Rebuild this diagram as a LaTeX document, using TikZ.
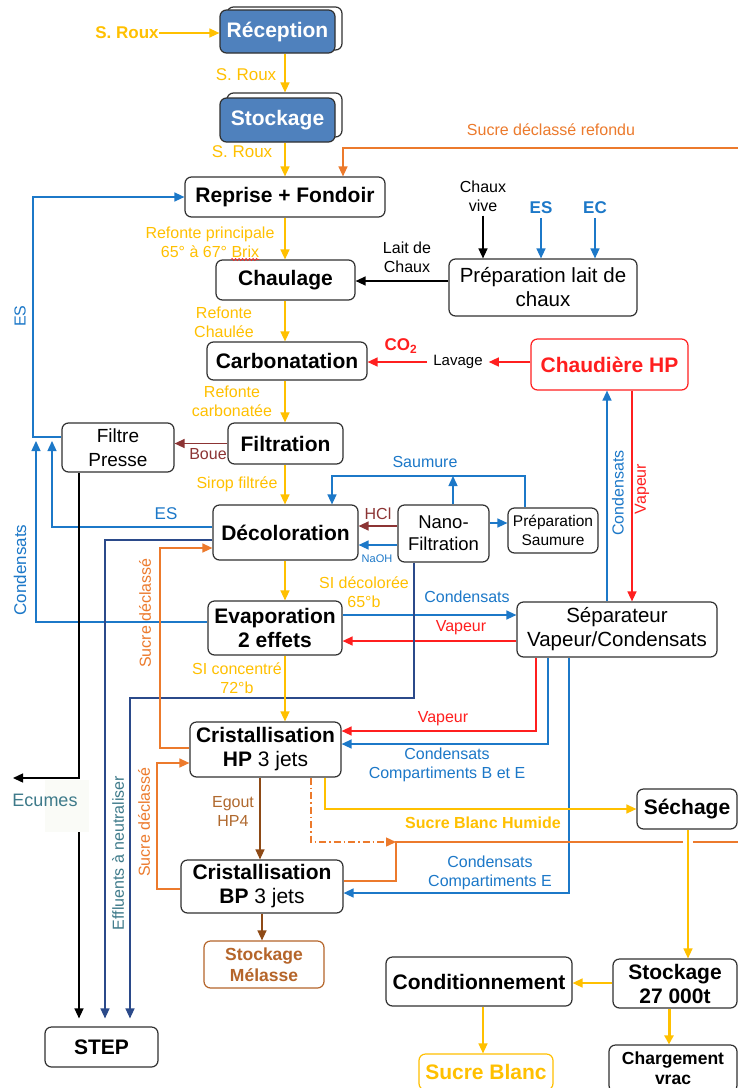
\documentclass[tikz,border=0pt]{standalone}
\usepackage{fontspec}
\setmainfont{Liberation Sans}
\usetikzlibrary{arrows.meta,decorations.pathmorphing}

\definecolor{yel}{HTML}{FFC000}
\definecolor{org}{HTML}{EC7A2C}
\definecolor{blu}{HTML}{1C78C8}
\definecolor{rd}{HTML}{FF1F1F}
\definecolor{boue}{HTML}{8C3434}
\definecolor{nav}{HTML}{2B4A8A}
\definecolor{egl}{HTML}{8E4A16}
\definecolor{egt}{HTML}{B0692E}
\definecolor{mel}{HTML}{B5652A}
\definecolor{tealtx}{HTML}{3E7A8A}
\definecolor{recfill}{HTML}{4F81BD}
\definecolor{boxc}{HTML}{303030}
\definecolor{faint}{HTML}{FAFBF7}

\tikzset{
  box/.style={draw=boxc, line width=1.2pt, rounded corners=6.5pt, fill=white,
    align=center, inner sep=1pt, text=black},
  bb/.style={font=\fontsize{21}{24}\selectfont\bfseries},
  nb/.style={font=\fontsize{20.5}{24}\selectfont},
  lab/.style={font=\fontsize{16}{19}\selectfont, align=center, inner sep=0pt},
  labb/.style={font=\fontsize{17}{20}\selectfont\bfseries, align=center, inner sep=0pt},
  ln/.style={line width=1.4pt},
  arr/.style={line width=1.4pt, -{Triangle[length=10pt,width=9pt]}},
}

\begin{document}
\begin{tikzpicture}[x=1pt,y=-1pt]
\fill[white] (0,0) rectangle (738,1088);
\useasboundingbox (0,0) rectangle (738,1088);

% ---------- process boxes ----------
\node[box, minimum width=115, minimum height=43] (recepbk) at (284.5,28.5) {};
\node[box, bb, fill=recfill, text=white, minimum width=115, minimum height=43] (recep) at (277.5,31.5) {Réception};
\node[box, minimum width=115, minimum height=44] (stockbk) at (284.5,115) {};
\node[box, bb, fill=recfill, text=white, minimum width=115, minimum height=44] (stock) at (277.5,120) {Stockage};

\node[box, bb, minimum width=200, minimum height=40] (reprise) at (285,197) {Reprise + Fondoir};
\node[box, bb, minimum width=139, minimum height=40] (chaul) at (285.5,280) {Chaulage};
\node[box, nb, minimum width=188, minimum height=57] (prepchaux) at (543,287.5) {Préparation lait de\\chaux};
\node[box, bb, minimum width=160, minimum height=38] (carbo) at (287,361) {Carbonatation};
\node[box, bb, draw=rd, text=rd, minimum width=157, minimum height=51] (chaud) at (609.5,364.5) {Chaudière HP};
\node[box, bb, minimum width=115, minimum height=41] (filtr) at (285.5,443.5) {Filtration};
\node[box, font=\fontsize{19}{24}\selectfont, minimum width=112, minimum height=49] (fpress) at (118,447.5) {Filtre\\Presse};
\node[box, bb, minimum width=145, minimum height=55] (decol) at (285.5,532.5) {Décoloration};
\node[box, font=\fontsize{18.5}{22}\selectfont, minimum width=91, minimum height=57] (nano) at (443.5,533.5) {Nano-\\Filtration};
\node[box, font=\fontsize{15.5}{19}\selectfont, minimum width=90, minimum height=45] (prepsaum) at (553,530.5) {Préparation\\Saumure};
\node[box, bb, minimum width=134, minimum height=54] (evap) at (275,628) {Evaporation\\2 effets};
\node[box, nb, minimum width=200, minimum height=55] (sep) at (617,629.5) {Séparateur\\Vapeur/Condensats};
\node[box, bb, minimum width=151, minimum height=55] (crhp) at (265.5,749.5) {Cristallisation\\HP {\mdseries 3 jets}};
\node[box, bb, minimum width=162, minimum height=53] (crbp) at (262,886.5) {Cristallisation\\BP {\mdseries 3 jets}};
\node[box, draw=mel, text=mel, font=\fontsize{17.5}{21}\selectfont\bfseries, minimum width=120, minimum height=47] (melasse) at (264,964.5) {Stockage\\Mélasse};
\node[box, bb, minimum width=100, minimum height=40] (sech) at (687,809) {Séchage};
\node[box, bb, minimum width=124, minimum height=49] (stockt) at (675,983.5) {Stockage\\27 000t};
\node[box, bb, minimum width=186, minimum height=49] (cond) at (479,981.5) {Conditionnement};
\node[box, bb, draw=yel, text=yel, minimum width=134, minimum height=36] (sblanc) at (486,1072) {Sucre Blanc};
\node[box, font=\fontsize{17.5}{20}\selectfont\bfseries, minimum width=128, minimum height=47] (charg) at (673,1068.5) {Chargement\\vrac};
\node[box, bb, minimum width=113, minimum height=40] (step) at (101.5,1047) {STEP};

% ---------- free line ends ----------
\coordinate (refin) at (745,148);
\coordinate (cupa) at (36,441);
\coordinate (cupb) at (52,441);
\coordinate (saumj) at (453,476);
\coordinate (ecumarr) at (13,778);
\coordinate (ecumbot) at (79,832);
\coordinate (sdj) at (396,842);
\coordinate (gapa) at (683,842);
\coordinate (gapb) at (693,842);
\coordinate (orgout) at (745,842);

% ---------- raw sugar line ----------
\node[labb, text=yel] (srouxin) at (127,33) {S. Roux};
\draw[arr, yel] (srouxin.east) -- (srouxin.east -| recep.west);
\draw[arr, yel] (recep.south -| 285,0) -- (stockbk.north -| 285,0);
\node[lab, font=\fontsize{17}{20}\selectfont, text=yel] (srouxa) at (246,75) {S. Roux};
\draw[arr, yel] (stock.south -| 285,0) -- (reprise.north -| 285,0);
\node[lab, font=\fontsize{17}{20}\selectfont, text=yel] (srouxb) at (242,152) {S. Roux};

% remelted downgraded sugar
\draw[arr, org] (refin) -- (343,148) -- (reprise.north -| 343,0);
\node[lab, text=org] (sdrlab) at (551,130) {Sucre déclassé refondu};

% sweet water back to the melter
\draw[arr, blu] (fpress.west |- 0,437) -- (33,437) |- (reprise.west);
\node[lab, text=blu, rotate=90] (eslab) at (20,316) {ES};

% liming
\draw[arr, yel] (reprise.south -| 285,0) -- (chaul.north -| 285,0);
\node[lab, text=yel] (refp) at (210,242.5) {Refonte principale\\65° à 67° Brix};
\draw[rd, line width=0.6pt, decorate, decoration={snake, amplitude=1.1pt, segment length=3.5pt}] (231,259.5) -- (259,259.5);

\draw[arr] (prepchaux.west |- 0,281) -- (chaul.east |- 0,281);
\node[lab] (laitlab) at (407,257) {Lait de\\Chaux};
\node[lab] (chauxv) at (483,196) {Chaux\\vive};
\draw[arr, shorten <=4pt] (chauxv.south) -- (chauxv.south |- prepchaux.north);
\node[labb, text=blu] (esin) at (541,208) {ES};
\draw[arr, blu, shorten <=4pt] (esin.south) -- (esin.south |- prepchaux.north);
\node[labb, text=blu] (ecin) at (595,208) {EC};
\draw[arr, blu, shorten <=4pt] (ecin.south) -- (ecin.south |- prepchaux.north);

% carbonatation
\draw[arr, yel] (chaul.south -| 285,0) -- (carbo.north -| 285,0);
\node[lab, text=yel] (refch) at (224,322) {Refonte\\Chaulée};
\node[lab, font=\fontsize{15}{18}\selectfont, inner xsep=6pt] (lavage) at (458,362) {Lavage};
\draw[arr, rd] (chaud.west |- lavage.east) -- (lavage.east);
\draw[arr, rd] (lavage.west) -- (lavage.west -| carbo.east);
\node[labb, text=rd] (co2) at (401,346) {CO\textsubscript{2}};

% filtration
\draw[arr, yel] (carbo.south -| 285,0) -- (filtr.north -| 285,0);
\node[lab, text=yel] (refca) at (232,401) {Refonte\\carbonatée};
\draw[arr, boue] (filtr.west) -- (filtr.west -| fpress.east);
\node[lab, text=boue] (bouelab) at (208,454) {Boue};

% decolouring and nanofiltration
\draw[arr, yel] (filtr.south -| 285,0) -- (decol.north -| 285,0);
\node[lab, text=yel] (siropf) at (237,484) {Sirop filtrée};
\draw[arr, blu] (prepsaum.north -| 525,0) -- (525,476) -- (332,476) -- (decol.north -| 332,0);
\draw[arr, blu] (nano.north -| saumj) -- (saumj);
\node[lab, text=blu] (saumlab) at (425,462) {Saumure};
\draw[arr, blu] (nano.east |- 0,523) -- (prepsaum.west |- 0,523);
\draw[arr, boue] (nano.west |- 0,526) -- (decol.east |- 0,526);
\node[lab, text=boue] (hcl) at (378,514) {HCl};
\draw[arr, blu] (nano.west |- 0,545) -- (decol.east |- 0,545);
\node[lab, font=\fontsize{11}{13}\selectfont, text=blu] (naoh) at (377,559) {NaOH};

% evaporation
\draw[arr, yel] (decol.south -| 285,0) -- (evap.north -| 285,0);
\node[lab, text=yel] (sidec) at (364,592) {SI décolorée\\65°b};
\draw[arr, blu] (evap.east |- 0,615) -- (sep.west |- 0,615);
\node[lab, text=blu] (condev) at (467,597) {Condensats};
\draw[arr, rd] (sep.west |- 0,641) -- (evap.east |- 0,641);
\node[lab, text=rd] (vapev) at (461,628) {Vapeur};

% boiler loop
\draw[arr, blu] (sep.north -| 607,0) -- (chaud.south -| 607,0);
\node[lab, text=blu, rotate=90] (condch) at (618,493) {Condensats};
\draw[arr, rd] (chaud.south -| 632,0) -- (sep.north -| 632,0);
\node[lab, text=rd, rotate=90] (vapch) at (642,489) {Vapeur};

% condensates and sweet water back to the press
\draw[arr, blu] (evap.west |- 0,622) -- (36,622) -- (cupa);
\node[lab, font=\fontsize{17}{20}\selectfont, text=blu, rotate=90] (condleft) at (20,570) {Condensats};
\draw[arr, blu] (decol.west |- 0,527) -- (52,527) -- (cupb);
\node[lab, font=\fontsize{17}{20}\selectfont, text=blu] (esdec) at (166,514) {ES};

% effluents and scum to the treatment plant
\draw[arr, nav, shorten >=8pt] (decol.west |- 0,540) -- (105,540) -- (105,0 |- step.north);
\draw[arr, nav, shorten >=8pt] (nano.south -| 414,0) -- (414,698) -- (130,698) -- (130,0 |- step.north);
\node[lab, text=tealtx, rotate=90] (efflab) at (118,853) {Effluents à neutraliser};
\draw[arr] (fpress.south -| 79,0) -- (79,778) -- (ecumarr);
\fill[faint] (45,780) rectangle (89,832);
\node[lab, font=\fontsize{18}{21}\selectfont, text=tealtx] (ecumes) at (45,800) {Ecumes};
\draw[arr, shorten >=8pt] (ecumbot) -- (79,0 |- step.north);

% downgraded sugar recycling
\draw[arr, org] (crhp.west |- 0,748) -- (160,748) -- (160,548) -- (decol.west |- 0,548);
\node[lab, text=org, rotate=90] (sdla) at (145,613) {Sucre déclassé};
\draw[arr, org] (crbp.west |- 0,889) -- (157,889) -- (157,763) -- (crhp.west |- 0,763);
\node[lab, text=org, rotate=90] (sdlb) at (144,822) {Sucre déclassé};

% crystallisation
\draw[arr, yel] (evap.south -| 285,0) -- (crhp.north -| 285,0);
\node[lab, text=yel] (sicon) at (237,678) {SI concentré\\72°b};
\draw[arr, rd] (sep.south -| 536,0) -- (536,731) -- (crhp.east |- 0,731);
\node[lab, text=rd] (vaphp) at (443,719) {Vapeur};
\draw[arr, blu] (sep.south -| 548,0) -- (548,744) -- (crhp.east |- 0,744);
\node[lab, text=blu] (condhp) at (447,765) {Condensats\\Compartiments B et E};
\draw[arr, blu] (sep.south -| 569,0) -- (569,893) -- (crbp.east |- 0,893);
\node[lab, text=blu] (condbp) at (490,872.5) {Condensats\\Compartiments E};

\draw[arr, org, dash pattern=on 7pt off 3pt on 1.5pt off 3pt] (crhp.south -| 311,0) -- (311,842) -- (sdj);
\draw[ln, org] (crbp.east |- 0,881) -- (396,881) -- (sdj) -- (gapa);
\draw[ln, org] (gapb) -- (orgout);

\draw[arr, egl] (crhp.south -| 260,0) -- (crbp.north -| 260,0);
\node[lab, text=egt] (egout) at (233,811) {Egout\\HP4};
\draw[arr, egl] (crbp.south -| 262,0) -- (melasse.north -| 262,0);

% white sugar
\draw[arr, yel] (crhp.south -| 325,0) -- (325,809) -- (sech.west);
\node[labb, font=\fontsize{16}{19}\selectfont\bfseries, text=yel] (sbh) at (483,823) {Sucre Blanc Humide};
\draw[arr, yel] (sech.south -| 688,0) -- (stockt.north -| 688,0);
\draw[arr, yel] (stockt.west |- 0,983) -- (cond.east |- 0,983);
\draw[arr, yel] (cond.south -| 483,0) -- (sblanc.north -| 483,0);
\draw[yel, line width=3pt, -{Triangle[length=9pt,width=9pt]}] (stockt.south -| 669,0) -- (charg.north -| 669,0);

\end{tikzpicture}
\end{document}
